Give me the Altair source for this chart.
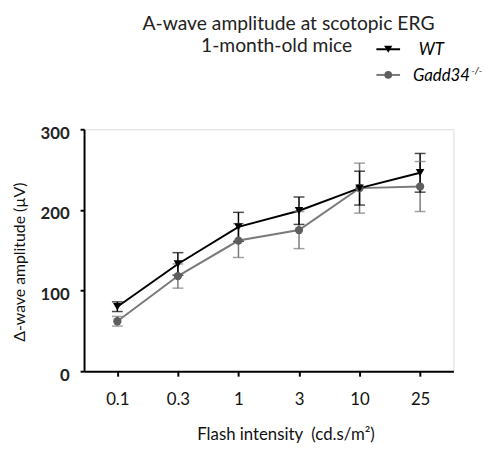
import altair as alt
import pandas as pd

intensity = ["0.1", "0.3", "1", "3", "10", "25"]
wt_mean = [80, 133, 179, 199, 227, 246]
wt_err = [6, 14, 18, 17, 21, 24]
gadd_mean = [62, 118, 162, 175, 227, 229]
gadd_err = [6, 15, 21, 23, 31, 31]
series = ["Gadd34", "WT"]

rows = []
for s, m, e in (("Gadd34", gadd_mean, gadd_err), ("WT", wt_mean, wt_err)):
    for x, mv, ev in zip(intensity, m, e):
        rows.append({"intensity": x, "series": s, "mean": mv, "lo": mv - ev, "hi": mv + ev})
df = pd.DataFrame(rows)

FONT = "Lato"
line_colors = alt.Scale(domain=series, range=["#7a7a7a", "#000000"])

xenc = alt.X("intensity:N", sort=intensity, scale=alt.Scale(type="point", padding=0.55),
             axis=alt.Axis(title="Flash intensity\u00a0\u00a0(cd.s/m\u00b2)", labelAngle=0, labelFontSize=17,
                           labelPadding=16, tickSize=5, tickWidth=2, tickColor="#000",
                           domainColor="#000", domainWidth=2, labelColor="#111",
                           titleFontSize=17, titleFontWeight="normal", titleColor="#111",
                           titleX=204, titleY=56, labelFont=FONT, titleFont=FONT,
                           grid=False))
yenc = alt.Y("mean:Q", scale=alt.Scale(domain=[0, 300]),
             axis=alt.Axis(title="\u0394-wave amplitude (\u00b5V)", values=[0, 100, 200, 300],
                           labelFontSize=17, labelFontWeight="bold", labelPadding=11,
                           tickSize=4, tickWidth=2, tickColor="#000", domainColor="#000",
                           domainWidth=2, labelColor="#222", labelBaseline="top", labelOffset=-4,
                           titleFontSize=16, titleFontWeight="normal", titleColor="#111",
                           titleX=-57, titleY=134, labelFont=FONT, titleFont=FONT, grid=False))

base = alt.Chart(df)
lines = base.mark_line(strokeWidth=2).encode(
    x=xenc, y=yenc,
    color=alt.Color("series:N", scale=line_colors, legend=None),
    order=alt.Order("series:N"))
rules = base.mark_rule(strokeWidth=1.5).encode(
    x=alt.X("intensity:N", sort=intensity), y="lo:Q", y2="hi:Q",
    color=alt.Color("series:N", scale=line_colors, legend=None))
cap_lo = base.mark_tick(size=11, thickness=1.5, orient="horizontal").encode(
    x=alt.X("intensity:N", sort=intensity), y="lo:Q",
    color=alt.Color("series:N", scale=line_colors, legend=None))
cap_hi = base.mark_tick(size=11, thickness=1.5, orient="horizontal").encode(
    x=alt.X("intensity:N", sort=intensity), y="hi:Q",
    color=alt.Color("series:N", scale=line_colors, legend=None))
gadd_pts = alt.Chart(df[df.series == "Gadd34"]).mark_point(
    shape="circle", filled=True, size=70, opacity=1, color="#5e5e5e").encode(
    x=alt.X("intensity:N", sort=intensity), y="mean:Q")
wt_pts = alt.Chart(df[df.series == "WT"]).mark_point(
    shape="triangle-down", filled=True, size=75, opacity=1, color="#000").encode(
    x=alt.X("intensity:N", sort=intensity), y="mean:Q")

# title
title_lines = ["A-wave amplitude at scotopic ERG", "1-month-old mice"]
t1 = alt.Chart(pd.DataFrame({"t": [title_lines[0]]})).mark_text(
    font=FONT, fontSize=19.5, color="#222", align="center", baseline="middle").encode(
    text="t:N", x=alt.value(207), y=alt.value(-107))
t2 = alt.Chart(pd.DataFrame({"t": [title_lines[1]]})).mark_text(
    font=FONT, fontSize=19.5, color="#222", align="center", baseline="middle").encode(
    text="t:N", x=alt.value(195), y=alt.value(-84))

# legend
leg_wt_line = alt.Chart(pd.DataFrame({"a": [0]})).mark_rule(color="#000", strokeWidth=2).encode(
    x=alt.value(296), x2=alt.value(320), y=alt.value(-81))
leg_wt_pt = alt.Chart(pd.DataFrame({"a": [0]})).mark_point(
    shape="triangle-down", filled=True, size=70, opacity=1, color="#000").encode(
    x=alt.value(308), y=alt.value(-81))
leg_g_line = alt.Chart(pd.DataFrame({"a": [0]})).mark_rule(color="#7a7a7a", strokeWidth=2).encode(
    x=alt.value(296), x2=alt.value(320), y=alt.value(-55))
leg_g_pt = alt.Chart(pd.DataFrame({"a": [0]})).mark_point(
    shape="circle", filled=True, size=60, opacity=1, color="#5e5e5e").encode(
    x=alt.value(308), y=alt.value(-55))
leg_t1 = alt.Chart(pd.DataFrame({"t": ["WT"]})).mark_text(
    font=FONT, fontSize=17, fontStyle="italic", color="#000", align="left", baseline="middle").encode(
    text="t:N", x=alt.value(339), y=alt.value(-80))
leg_t2 = alt.Chart(pd.DataFrame({"t": ["Gadd34"]})).mark_text(
    font=FONT, fontSize=17, fontStyle="italic", color="#000", align="left", baseline="middle").encode(
    text="t:N", x=alt.value(333), y=alt.value(-54))
leg_t3 = alt.Chart(pd.DataFrame({"t": ["-/-"]})).mark_text(
    font=FONT, fontSize=10, fontStyle="italic", color="#000", align="left", baseline="middle").encode(
    text="t:N", x=alt.value(392), y=alt.value(-59))

chart = alt.layer(
    lines, rules, cap_lo, cap_hi, gadd_pts, wt_pts,
    t1, t2, leg_wt_line, leg_wt_pt, leg_g_line, leg_g_pt, leg_t1, leg_t2, leg_t3
).properties(
    width=374, height=245,
    autosize=alt.AutoSizeParams(type="none"),
    padding={"left": 77, "top": 120, "right": 33, "bottom": 78},
).configure_view(stroke=None).configure(background="white")

chart.save("out.html", embed_options={"renderer": "svg", "actions": False})
